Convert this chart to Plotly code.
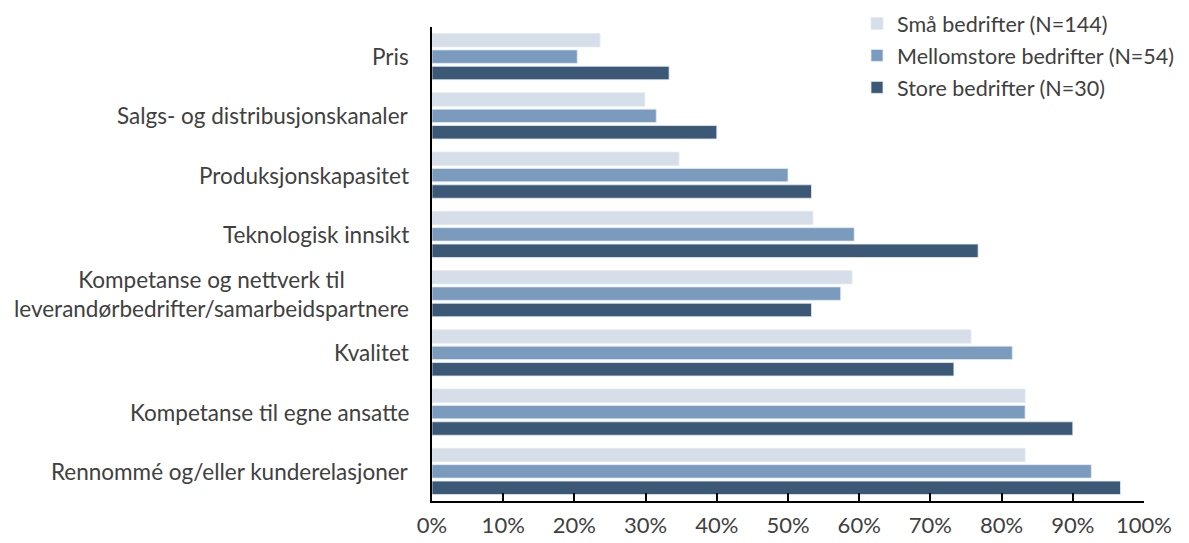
import plotly.graph_objects as go

categories = [
    "Pris",
    "Salgs- og distribusjonskanaler",
    "Produksjonskapasitet",
    "Teknologisk innsikt",
    "Kompetanse og nettverk til<br>leverandørbedrifter/samarbeidspartnere",
    "Kvalitet",
    "Kompetanse til egne ansatte",
    "Rennommé og/eller kunderelasjoner",
]
series_names = ["Små bedrifter (N=144)", "Mellomstore bedrifter (N=54)", "Store bedrifter (N=30)"]
small = [23.6, 29.9, 34.7, 53.5, 59.0, 75.7, 83.3, 83.3]
medium = [20.4, 31.5, 50.0, 59.3, 57.4, 81.5, 83.3, 92.6]
large = [33.3, 40.0, 53.3, 76.7, 53.3, 73.3, 90.0, 96.7]
x_ticks = [0, 10, 20, 30, 40, 50, 60, 70, 80, 90, 100]
x_ticklabels = [f"{t}%" for t in x_ticks]

colors = ["#D5DEE9", "#7A9BBE", "#3B5876"]
FONT = "Lato"
TXT = "#404040"

W, H = 1189, 543
plot_left, plot_right = 432, 1144
plot_top, plot_bot = 27, 501

fig = go.Figure()
for i, (name, vals, col) in enumerate(zip(series_names, [small, medium, large], colors)):
    fig.add_trace(go.Bar(
        y=categories, x=vals, name=name, orientation="h",
        marker=dict(color=col, line=dict(color="#E4EAF2", width=0.8)),
        legendgroup=f"g{i}",
    ))

for c in categories:
    fig.add_annotation(
        x=0, xref="paper", y=c, yref="y", text=c, showarrow=False,
        xanchor="right", xshift=-21, align="center",
        font=dict(family=FONT, size=22.5, color=TXT),
    )

fig.update_layout(
    width=W, height=H,
    margin=dict(l=plot_left, r=W - plot_right, t=0, b=H - plot_bot, autoexpand=False),
    paper_bgcolor="white", plot_bgcolor="white",
    barmode="group", bargap=0.17, bargroupgap=0.18,
    font=dict(family=FONT, size=21, color=TXT),
    legend=dict(
        x=(857 - plot_left) / (plot_right - plot_left), xanchor="left",
        y=(plot_bot - 3) / plot_bot, yanchor="top",
        bgcolor="rgba(0,0,0,0)", font=dict(family=FONT, size=21.5, color=TXT),
        tracegroupgap=1, itemwidth=30,
    ),
    xaxis=dict(
        range=[0, 100], tickvals=x_ticks, ticktext=x_ticklabels,
        showgrid=False, zeroline=False,
        showline=True, linecolor="#000000", linewidth=1.5,
        ticks="inside", ticklen=8, tickwidth=1.5, tickcolor="#000000",
        ticklabelstandoff=4,
        tickfont=dict(family=FONT, size=22, color=TXT),
        fixedrange=True,
    ),
    yaxis=dict(
        domain=[0, (plot_bot - plot_top) / plot_bot],
        categoryorder="array", categoryarray=categories,
        autorange="reversed", showticklabels=False,
        showgrid=False, zeroline=False,
        showline=True, linecolor="#000000", linewidth=1.5,
        ticks="", fixedrange=True,
    ),
)

fig.write_html(
    "out.html",
    config={"displayModeBar": False},
    post_script="document.body.style.margin='0';",
)
